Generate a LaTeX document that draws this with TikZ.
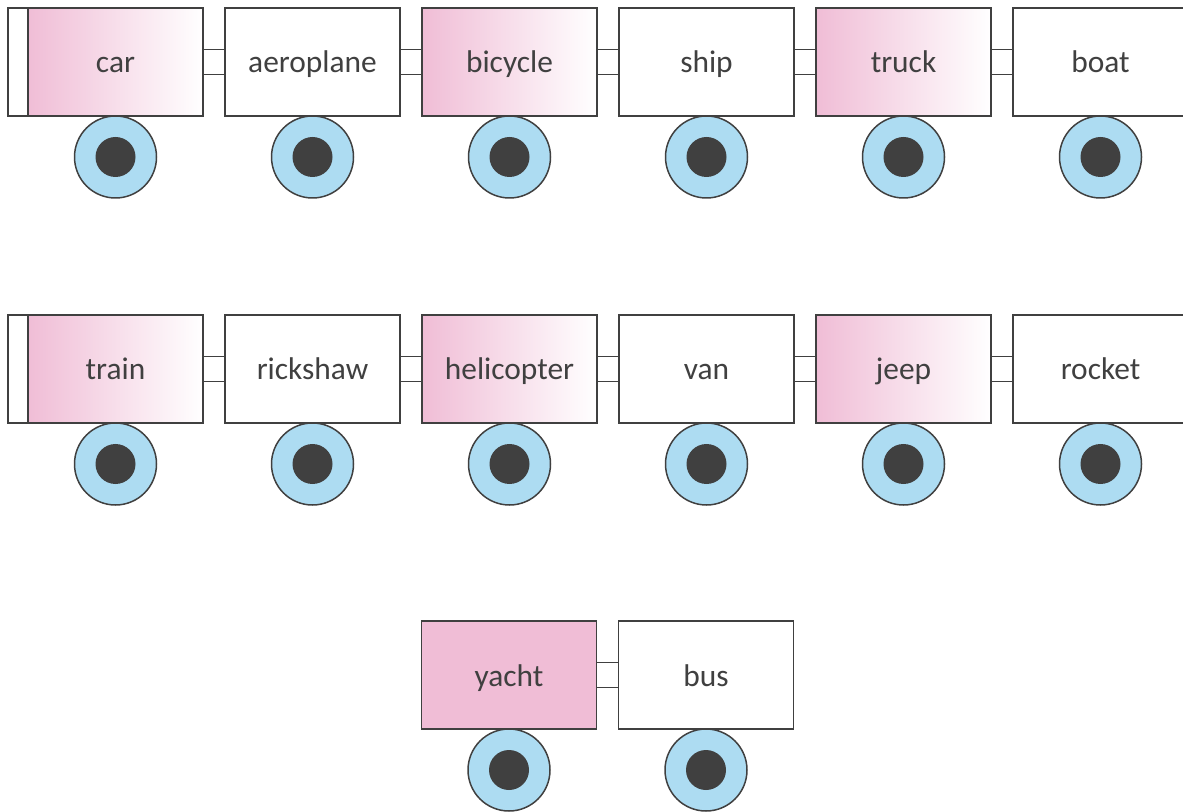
\documentclass[tikz,border=0pt]{standalone}
\usepackage{fontspec}
\setmainfont{Carlito}
\usetikzlibrary{positioning}
\definecolor{edge}{HTML}{404040}
\definecolor{rose}{HTML}{F0BDD6}
\definecolor{tyre}{HTML}{ADDCF2}

\tikzset{
  wagon/.style={draw=edge, line width=0.9pt, fill=white, minimum width=87.5pt, minimum height=54pt, inner sep=0pt, outer sep=0pt, text=edge, text height=12pt, text depth=1pt, font=\fontsize{15.7}{19}\selectfont},
  pinkwagon/.style={wagon, left color=rose, right color=white},
  buffer/.style={draw=edge, line width=0.9pt, fill=white, minimum width=10pt, minimum height=54pt, inner sep=0pt, outer sep=0pt},
  wheel/.style={circle, draw=edge, line width=0.75pt, fill=tyre, minimum size=41pt, inner sep=0pt, outer sep=0pt},
  hub/.style={circle, fill=edge, minimum size=20pt, inner sep=0pt},
  link/.style={draw=edge, line width=0.9pt, fill=white}
}

\begin{document}
\begin{tikzpicture}[x=0.5pt, y=-0.5pt]
    \useasboundingbox (0,0) rectangle (1183,812);

    % first train
    \node[pinkwagon] (car) at (115.5,62) {car};
    \node[buffer, left=0pt of car] (carend) {};
    \node[wagon, right=11pt of car] (aeroplane) {aeroplane};
    \node[pinkwagon, right=11pt of aeroplane] (bicycle) {bicycle};
    \node[wagon, right=11pt of bicycle] (ship) {ship};
    \node[pinkwagon, right=11pt of ship] (truck) {truck};
    \node[wagon, right=11pt of truck] (boat) {boat};

    % second train
    \node[pinkwagon] (train) at (115.5,369) {train};
    \node[buffer, left=0pt of train] (trainend) {};
    \node[wagon, right=11pt of train] (rickshaw) {rickshaw};
    \node[pinkwagon, right=11pt of rickshaw] (helicopter) {helicopter};
    \node[wagon, right=11pt of helicopter] (van) {van};
    \node[pinkwagon, right=11pt of van] (jeep) {jeep};
    \node[wagon, right=11pt of jeep] (rocket) {rocket};

    % third train
    \node[wagon, fill=rose] (yacht) at (509,675) {yacht};
    \node[wagon, right=11pt of yacht] (bus) {bus};

    % couplings
    \draw[link] ([yshift=6.25pt]car.east) rectangle ([yshift=-6.25pt]aeroplane.west);
    \draw[link] ([yshift=6.25pt]aeroplane.east) rectangle ([yshift=-6.25pt]bicycle.west);
    \draw[link] ([yshift=6.25pt]bicycle.east) rectangle ([yshift=-6.25pt]ship.west);
    \draw[link] ([yshift=6.25pt]ship.east) rectangle ([yshift=-6.25pt]truck.west);
    \draw[link] ([yshift=6.25pt]truck.east) rectangle ([yshift=-6.25pt]boat.west);
    \draw[link] ([yshift=6.25pt]train.east) rectangle ([yshift=-6.25pt]rickshaw.west);
    \draw[link] ([yshift=6.25pt]rickshaw.east) rectangle ([yshift=-6.25pt]helicopter.west);
    \draw[link] ([yshift=6.25pt]helicopter.east) rectangle ([yshift=-6.25pt]van.west);
    \draw[link] ([yshift=6.25pt]van.east) rectangle ([yshift=-6.25pt]jeep.west);
    \draw[link] ([yshift=6.25pt]jeep.east) rectangle ([yshift=-6.25pt]rocket.west);
    \draw[link] ([yshift=6.25pt]yacht.east) rectangle ([yshift=-6.25pt]bus.west);

    % wheels
    \node[wheel, below=0pt of car] (carwheel) {};
    \node[hub] at (carwheel) {};
    \node[wheel, below=0pt of aeroplane] (aeroplanewheel) {};
    \node[hub] at (aeroplanewheel) {};
    \node[wheel, below=0pt of bicycle] (bicyclewheel) {};
    \node[hub] at (bicyclewheel) {};
    \node[wheel, below=0pt of ship] (shipwheel) {};
    \node[hub] at (shipwheel) {};
    \node[wheel, below=0pt of truck] (truckwheel) {};
    \node[hub] at (truckwheel) {};
    \node[wheel, below=0pt of boat] (boatwheel) {};
    \node[hub] at (boatwheel) {};
    \node[wheel, below=0pt of train] (trainwheel) {};
    \node[hub] at (trainwheel) {};
    \node[wheel, below=0pt of rickshaw] (rickshawwheel) {};
    \node[hub] at (rickshawwheel) {};
    \node[wheel, below=0pt of helicopter] (helicopterwheel) {};
    \node[hub] at (helicopterwheel) {};
    \node[wheel, below=0pt of van] (vanwheel) {};
    \node[hub] at (vanwheel) {};
    \node[wheel, below=0pt of jeep] (jeepwheel) {};
    \node[hub] at (jeepwheel) {};
    \node[wheel, below=0pt of rocket] (rocketwheel) {};
    \node[hub] at (rocketwheel) {};
    \node[wheel, below=0pt of yacht] (yachtwheel) {};
    \node[hub] at (yachtwheel) {};
    \node[wheel, below=0pt of bus] (buswheel) {};
    \node[hub] at (buswheel) {};
\end{tikzpicture}
\end{document}
